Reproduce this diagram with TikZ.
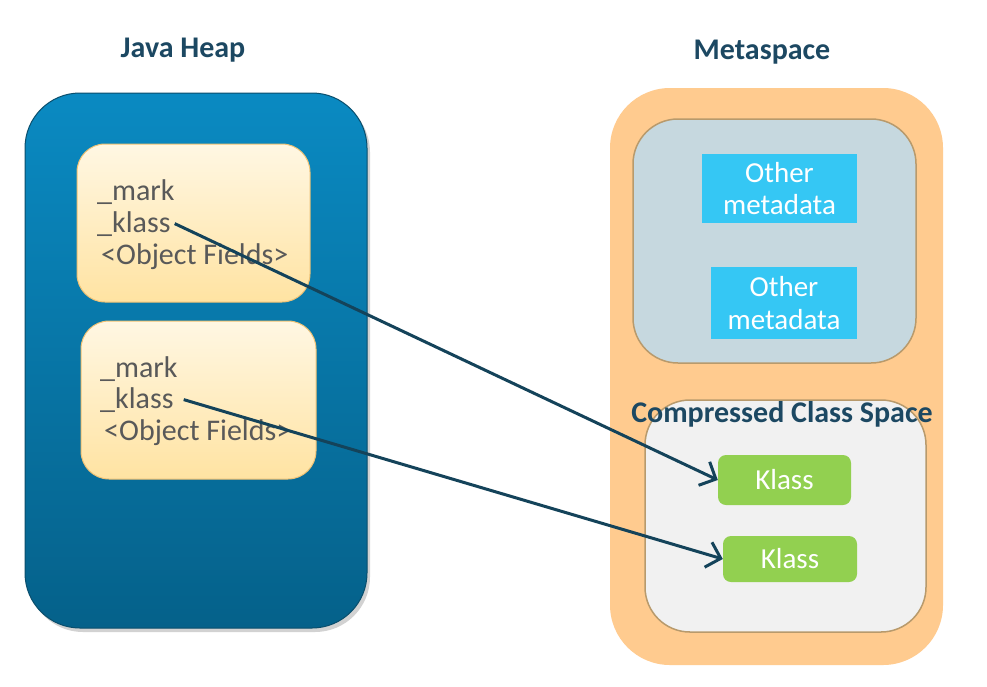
\documentclass[tikz,border=0pt]{standalone}
\usepackage{fontspec}
\setmainfont{Carlito}
\usetikzlibrary{arrows.meta,shadows}
\definecolor{heaptop}{HTML}{0A8AC2}
\definecolor{heapbot}{HTML}{05618A}
\definecolor{heapline}{HTML}{0A4E6C}
\definecolor{objtop}{HTML}{FFF7E3}
\definecolor{objbot}{HTML}{FFE3A2}
\definecolor{objline}{HTML}{EFC275}
\definecolor{metafill}{HTML}{FFCB8F}
\definecolor{greyfill}{HTML}{C6D8DF}
\definecolor{spaceline}{HTML}{B89A6C}
\definecolor{ccsfill}{HTML}{F1F1F1}
\definecolor{otherfill}{HTML}{35C7F4}
\definecolor{klassfill}{HTML}{92D050}
\definecolor{ptrcol}{HTML}{14435A}
\definecolor{titlecol}{HTML}{1C4862}
\definecolor{fieldtext}{HTML}{595959}
\tikzset{
  title/.style={anchor=base, inner sep=0, text=titlecol,
    font=\fontsize{30}{32}\selectfont\bfseries},
  field/.style={anchor=base west, inner sep=0, text=fieldtext,
    font=\fontsize{30}{32}\selectfont},
  objbox/.style={rounded corners=28pt, draw=objline, line width=1pt,
    top color=objtop, bottom color=objbot},
  spacebox/.style={rounded corners=45pt, draw=spaceline, line width=1.5pt},
  otherbox/.style={fill=otherfill, text=white, align=center, inner sep=0,
    font=\fontsize{29}{32.5}\selectfont},
  klassbox/.style={fill=klassfill, text=white, rounded corners=8pt, inner sep=0,
    font=\fontsize{29}{32}\selectfont},
  ptr/.style={draw=ptrcol, line width=3pt,
    -{Straight Barb[length=13pt,width=26pt,line width=3pt]}}
}
\begin{document}
\begin{tikzpicture}[x=1pt, y=-1pt]
\fill[white] (0,0) rectangle (987,686);
\useasboundingbox (0,0) rectangle (987,686);
% java heap
\node[title] (heapt) at (183,57) {Java Heap};
\node[rounded corners=55pt, draw=heapline, line width=1pt,
  top color=heaptop, bottom color=heapbot,
  drop shadow={opacity=0.35, shadow xshift=3pt, shadow yshift=-4pt},
  minimum width=342pt, minimum height=535pt] (heap) at (196,360.5) {};
\node[objbox, minimum width=233pt, minimum height=158pt] (obj1) at (193.5,223) {};
\node[objbox, minimum width=235pt, minimum height=158pt] (obj2) at (198.5,400) {};
\node[field] (mark1) at (97,200) {\_mark};
\node[field] (kl1) at (97,232) {\_klass};
\node[field] (fld1) at (101,264) {<Object Fields>};
\node[field] (mark2) at (100,377) {\_mark};
\node[field] (kl2) at (100,408) {\_klass};
\node[field] (fld2) at (104,440) {<Object Fields>};
% metaspace
\node[title] (metat) at (762,59) {Metaspace};
\node[rounded corners=60pt, fill=metafill,
  minimum width=333pt, minimum height=577pt] (meta) at (776.5,376.5) {};
\node[spacebox, fill=greyfill, minimum width=283pt, minimum height=244pt] (other) at (774.5,241) {};
\node[otherbox, minimum width=155pt, minimum height=69pt] (other1) at (779.5,188.5) {Other\\metadata};
\node[otherbox, minimum width=146pt, minimum height=72pt] (other2) at (784,303) {Other\\metadata};
\node[spacebox, fill=ccsfill, minimum width=281pt, minimum height=232pt] (ccs) at (785.5,516) {};
\node[title] (ccst) at (782,422) {Compressed Class Space};
\node[klassbox, minimum width=133pt, minimum height=50pt] (klassA) at (784.5,480) {Klass};
\node[klassbox, minimum width=134pt, minimum height=46pt] (klassB) at (790,559) {Klass};
% pointers
\draw[ptr] ([xshift=4pt]kl1.east) -- (klassA.west);
\draw[ptr] ([xshift=10pt]kl2.east) -- (klassB.west);
\end{tikzpicture}
\end{document}
